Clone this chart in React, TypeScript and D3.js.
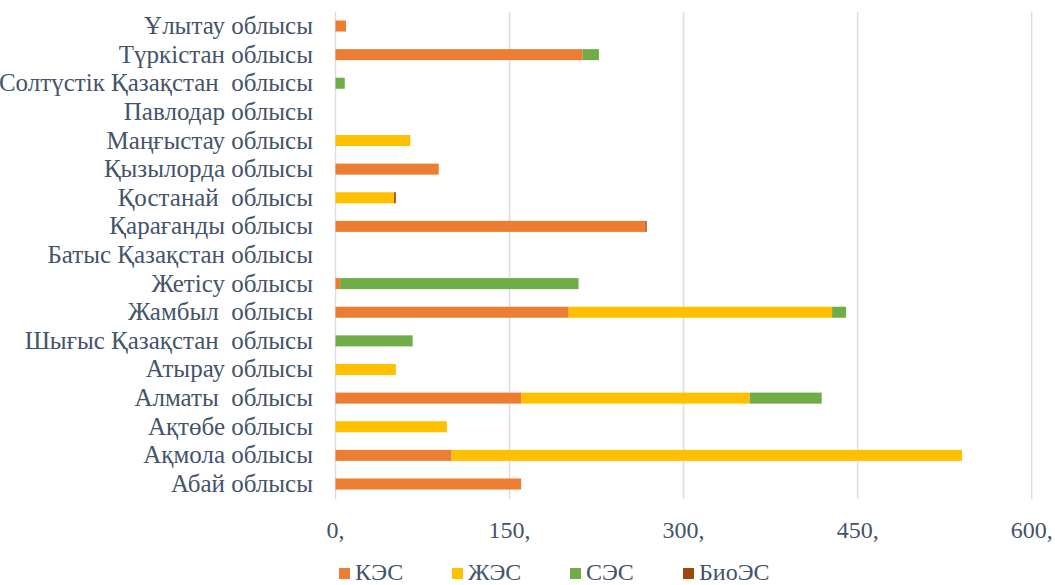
import React from "react";
import * as d3 from "d3";

const categories = [
  "Ұлытау облысы",
  "Түркістан облысы",
  "Солтүстік Қазақстан \u00A0облысы",
  "Павлодар облысы",
  "Маңғыстау облысы",
  "Қызылорда облысы",
  "Қостанай \u00A0облысы",
  "Қарағанды облысы",
  "Батыс Қазақстан облысы",
  "Жетісу облысы",
  "Жамбыл \u00A0облысы",
  "Шығыс Қазақстан \u00A0облысы",
  "Атырау облысы",
  "Алматы \u00A0облысы",
  "Ақтөбе облысы",
  "Ақмола облысы",
  "Абай облысы",
];

const seriesNames = ["КЭС", "ЖЭС", "СЭС", "БиоЭС"];
const colors = ["#ED7D31", "#FFC000", "#70AD47", "#9E480E"];

const kes = [9, 213, 0, 0, 0, 89, 0, 267, 0, 4, 201, 0, 0, 160, 0, 100, 160];
const jes = [0, 0, 0, 0, 64.5, 0, 50.5, 0, 0, 0, 227, 0, 52, 197, 96, 440, 0];
const ses = [0, 14, 8, 0, 0, 0, 0, 0, 0, 205.5, 12, 66.5, 0, 62, 0, 0, 0];
const bio = [0, 0, 0, 0, 0, 0, 1.5, 1.2, 0, 0, 0, 0, 0, 0, 0, 0, 0];

const tickValues = [0, 150, 300, 450, 600];
const tickLabels = ["0,", "150,", "300,", "450,", "600,"];

const W = 1055;
const H = 585;
const left = 335.5;
const right = 1031.7;
const top = 11.7;
const bottom = 498.3;
const textColor = "#44546A";
const FONT = '"Liberation Serif"';
const textStyle: React.CSSProperties = { fontFamily: FONT };

export default function App() {
  const x = d3.scaleLinear().domain([0, 600]).range([left, right]);
  const y = d3
    .scaleBand<string>()
    .domain(categories)
    .range([top, bottom])
    .paddingInner(0.615)
    .paddingOuter(0.3075);

  const data = categories.map((c, i) => ({
    cat: c,
    КЭС: kes[i],
    ЖЭС: jes[i],
    СЭС: ses[i],
    БиоЭС: bio[i],
  }));
  const stacked = d3.stack<any>().keys(seriesNames)(data);

  const legendX = [339, 452, 570, 683];

  return (
    <svg
      width={W}
      height={H}
      style={{ position: "absolute", left: 0, top: 0, background: "#fff" }}
    >
      {tickValues.map((t) => (
        <line
          key={t}
          x1={x(t)}
          x2={x(t)}
          y1={top}
          y2={bottom + 1}
          stroke="#D9DDE6"
          strokeWidth={1.5}
        />
      ))}
      {stacked.map((s, si) => (
        <g key={s.key} fill={colors[si]}>
          {s.map((d, i) =>
            d[1] - d[0] > 0 ? (
              <rect
                key={i}
                x={x(d[0])}
                y={y(categories[i])!}
                width={x(d[1]) - x(d[0])}
                height={y.bandwidth()}
              />
            ) : null
          )}
        </g>
      ))}
      {categories.map((c) => (
        <text
          key={c}
          x={313}
          y={y(c)! + y.bandwidth() / 2 + 8}
          textAnchor="end"
          fontSize={25}
          fill={textColor}
          style={textStyle}
        >
          {c}
        </text>
      ))}
      {tickValues.map((t, i) => (
        <text
          key={t}
          x={x(t)}
          y={538}
          textAnchor="middle"
          fontSize={24}
          fill={textColor}
          style={textStyle}
        >
          {tickLabels[i]}
        </text>
      ))}
      {seriesNames.map((n, i) => (
        <g key={n}>
          <rect x={legendX[i]} y={568} width={11} height={11} fill={colors[i]} />
          <text
            x={legendX[i] + 16}
            y={580}
            fontSize={24}
            fill={textColor}
            style={textStyle}
          >
            {n}
          </text>
        </g>
      ))}
    </svg>
  );
}
